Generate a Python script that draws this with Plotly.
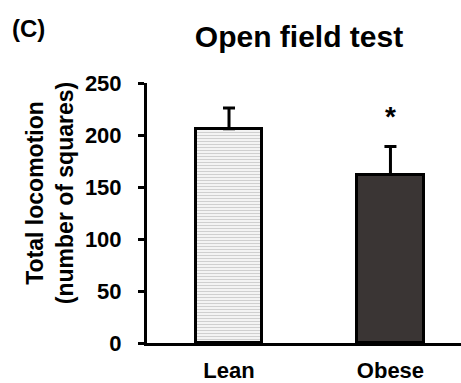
import plotly.graph_objects as go

groups = ["Lean", "Obese"]
means = [206, 162]
sem = [20, 27]
fills = ["white", "#3a3534"]
y_ticks = [0, 50, 100, 150, 200, 250]

FONT = "Liberation Sans, Arial, Helvetica, sans-serif"

fig = go.Figure()

# Lean: white bar with thin grey horizontal stripes
fig.add_trace(go.Bar(
    x=[groups[0]], y=[means[0]], width=0.41,
    marker=dict(
        color=fills[0],
        line=dict(color="black", width=3),
        pattern=dict(shape="-", fgcolor="#a0a0a0", bgcolor="white",
                     size=3, solidity=0.5),
    ),
    error_y=dict(type="data", array=[sem[0]], arrayminus=[0], symmetric=False,
                 color="black", thickness=3, width=6),
))

# Obese: solid dark bar
fig.add_trace(go.Bar(
    x=[groups[1]], y=[means[1]], width=0.41,
    marker=dict(color=fills[1], line=dict(color="black", width=3)),
    error_y=dict(type="data", array=[sem[1]], arrayminus=[0], symmetric=False,
                 color="black", thickness=3, width=6),
))

# significance marker above the obese bar
fig.add_annotation(x=groups[1], y=means[1] + sem[1], yshift=30, text="*",
                   showarrow=False,
                   font=dict(family=FONT, size=28, color="black", weight="bold"))

# panel label
fig.add_annotation(xref="paper", yref="paper", x=-0.435, y=1.21, text="(C)",
                   showarrow=False, xanchor="left", yanchor="middle",
                   font=dict(family=FONT, size=24, color="black", weight="bold"))

# y-axis title, rotated, two lines
fig.add_annotation(xref="paper", yref="paper", x=-0.31, y=0.575,
                   text="Total locomotion<br>(number of squares)",
                   textangle=-90, showarrow=False, align="center",
                   xanchor="center", yanchor="middle",
                   font=dict(family=FONT, size=23, color="black", weight="bold"))

fig.update_layout(
    width=461, height=383,
    margin=dict(l=147, r=0, t=83, b=38),
    paper_bgcolor="white", plot_bgcolor="white",
    showlegend=False, bargap=0,
    title=dict(text="Open field test", x=0.6486, xanchor="center",
               y=0.905, yanchor="middle",
               font=dict(family=FONT, size=30, color="black", weight="bold")),
    font=dict(family=FONT, color="black"),
)

fig.update_xaxes(
    type="category", range=[-0.508, 1.437],
    showline=True, linecolor="black", linewidth=3,
    ticks="", showgrid=False, zeroline=False,
    tickfont=dict(family=FONT, size=22, color="black", weight="bold"),
    ticklabelstandoff=6,
)

fig.update_yaxes(
    range=[0, 250], tickvals=y_ticks,
    showline=True, linecolor="black", linewidth=3,
    ticks="outside", ticklen=6, tickwidth=3, tickcolor="black",
    showgrid=False, zeroline=False,
    tickfont=dict(family=FONT, size=22, color="black", weight="bold"),
    ticklabelstandoff=12,
)

fig.write_html("out.html")
